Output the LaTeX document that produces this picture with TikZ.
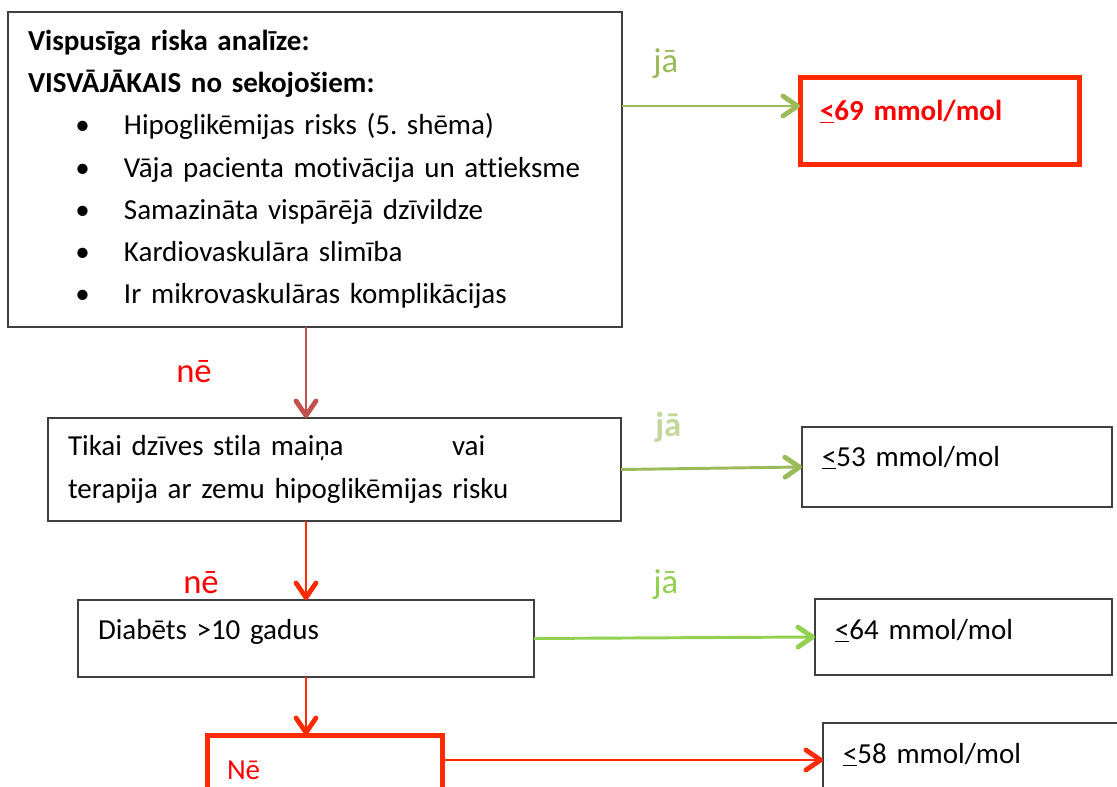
\documentclass[tikz,border=0pt]{standalone}
\usepackage{fontspec}
\setmainfont{Carlito}[Ligatures={NoCommon}]
\usepackage{xcolor}
\usetikzlibrary{arrows.meta, positioning}

\definecolor{boxgray}{HTML}{3F3F3F}
\definecolor{jagreen}{HTML}{9BBB59}
\definecolor{japale}{HTML}{C3D69B}
\definecolor{jalight}{HTML}{92D050}
\definecolor{nered}{HTML}{FF0000}
\definecolor{arrred}{HTML}{FF2A00}
\definecolor{arrbrown}{HTML}{C0504D}

% one pixel of the layout
\newcommand{\pxl}[1]{#1*0.75pt}
\newcommand{\itm}[1]{\hspace*{35.5pt}\makebox[36.5pt][l]{\textbullet}#1}
\frenchspacing

\begin{document}
\begin{tikzpicture}[
    x=0.75pt, y=-0.75pt,
    font=\fontsize{21.75}{31.7}\selectfont,
    box/.style={rectangle, draw=boxgray, line width=1.1pt, anchor=north west, align=left, inner xsep=15pt, inner ysep=0pt, outer sep=0pt},
    redbox/.style={box, draw=arrred, line width=3.75pt},
    valbox/.style={text height=15pt, text depth=#1},
    lbl/.style={anchor=base west, inner sep=0pt, font=\fontsize{26}{30}\selectfont},
    arr/.style={line width=2.2pt, -{Straight Barb[length=11pt, width=15pt, line width=3.6pt, round]}},
    greenarr/.style={arr, draw=jagreen},
    litarr/.style={arr, draw=jalight},
    redarr/.style={arr, draw=arrred},
    brownarr/.style={arr, draw=arrbrown}
]
\path[use as bounding box, fill=white] (0,0) rectangle (1117,787);
\clip (0,0) rectangle (1117,787);

% Questions
\node[box, text width=\pxl{574}, minimum height=\pxl{315}] (risk) at (8,12)
  {\textbf{Vispusīga riska analīze:}\\
   \textbf{VISVĀJĀKAIS no sekojošiem:}\\
   \itm{Hipoglikēmijas risks (5. shēma)}\\
   \itm{Vāja pacienta motivācija un attieksme}\\
   \itm{Samazināta vispārējā dzīvildze}\\
   \itm{Kardiovaskulāra slimība}\\
   \itm{Ir mikrovaskulāras komplikācijas}};
\node[box, text width=\pxl{533}, minimum height=\pxl{103}] (lifestyle) at (48,418)
  {\makebox[288pt][l]{Tikai dzīves stila maiņa}vai\\
   terapija ar zemu hipoglikēmijas risku};
\node[box, valbox=13pt, text width=\pxl{416}, minimum height=\pxl{77}] (duration) at (78,600)
  {Diabēts >10 gadus};
\node[redbox, valbox=17pt, text width=\pxl{195}, minimum height=\pxl{92}, text=nered] (no) at (207,735)
  {Nē};

% Targets
\node[redbox, valbox=17pt, text width=\pxl{239}, minimum height=\pxl{87}, text=nered] (t69) at (800,78)
  {\bfseries\underline{<}69 mmol/mol};
\node[box, valbox=16pt, text width=\pxl{270}, minimum height=\pxl{80}] (t53) at (802,427)
  {\underline{<}53 mmol/mol};
\node[box, valbox=11pt, text width=\pxl{257}, minimum height=\pxl{76}] (t64) at (815,599)
  {\underline{<}64 mmol/mol};
\node[box, valbox=15pt, text width=\pxl{262}, minimum height=\pxl{80}] (t58) at (823,723)
  {\underline{<}58 mmol/mol};

% Labels
\node[lbl, text=jagreen] (ja1) at (653,73) {jā};
\node[lbl, text=japale, font=\fontsize{26}{30}\selectfont\bfseries] (ja2) at (655,437) {jā};
\node[lbl, text=jalight] (ja3) at (653,593) {jā};
\node[lbl, text=nered] (ne1) at (176,383) {nē};
\node[lbl, text=nered] (ne2) at (183,593) {nē};

% Arrows
\coordinate (in69) at ([yshift=11.6pt]t69.west);
\coordinate (out58) at ([yshift=-18.75pt]no.north east);
\draw[greenarr] (risk.east |- in69) -- (in69);
\draw[greenarr] (lifestyle.east) -- (t53.west);
\draw[litarr] (duration.east) -- (t64.west);
\draw[redarr] (out58) -- (out58 -| t58.west);
\draw[brownarr] (risk.south -| duration.north) -- (lifestyle.north -| duration.north);
\draw[redarr] (lifestyle.south -| duration.north) -- (duration.north);
\draw[redarr] (duration.south) -- (no.north -| duration.south);
\end{tikzpicture}
\end{document}
